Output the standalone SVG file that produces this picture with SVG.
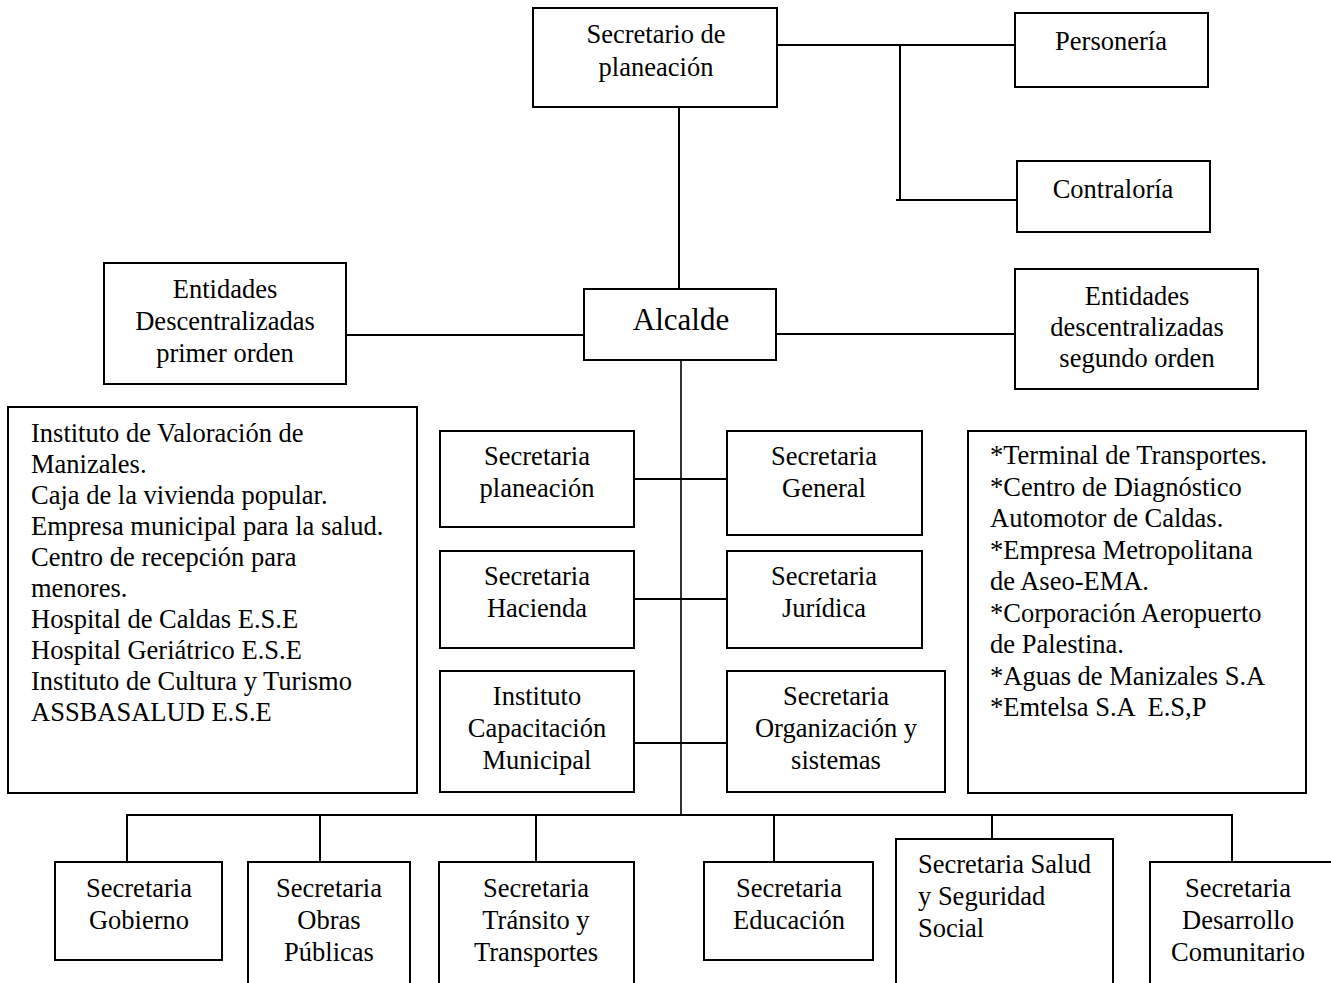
<svg xmlns="http://www.w3.org/2000/svg" width="1331" height="983" viewBox="0 0 1331 983">
<style>
rect{fill:#fff;stroke:#000;stroke-width:2}
line{stroke:#000;stroke-width:2}
text{font-family:"Liberation Serif","Times New Roman",serif;font-size:26.5px;fill:#000}
.c{text-anchor:middle}
</style>
<rect x="0" y="0" width="1331" height="983" style="stroke:none"/>
<g id="connectors">
<line x1="679" y1="107" x2="679" y2="290"/>
<line x1="777" y1="45" x2="1017" y2="45"/>
<line x1="900" y1="45" x2="900" y2="200"/>
<line x1="896" y1="200" x2="1018" y2="200"/>
<line x1="346" y1="335" x2="584" y2="335"/>
<line x1="776" y1="334" x2="1015" y2="334"/>
<line x1="681" y1="357" x2="681" y2="816" style="stroke-width:1.6"/>
<line x1="634" y1="479" x2="727" y2="479"/>
<line x1="634" y1="599" x2="727" y2="599"/>
<line x1="634" y1="743" x2="727" y2="743"/>
<line x1="126" y1="815" x2="1233" y2="815"/>
<line x1="127" y1="815" x2="127" y2="862"/>
<line x1="320" y1="815" x2="320" y2="862"/>
<line x1="536" y1="815" x2="536" y2="862"/>
<line x1="774" y1="815" x2="774" y2="862"/>
<line x1="992" y1="815" x2="992" y2="839"/>
<line x1="1232" y1="815" x2="1232" y2="862"/>
</g>
<g id="secretario-planeacion">
<rect x="533" y="8" width="244" height="99"/>
<text class="c" x="656" y="43">Secretario de</text>
<text class="c" x="656" y="76">planeación</text>
</g>
<g id="personeria">
<rect x="1015" y="13" width="193" height="74"/>
<text class="c" x="1111" y="50">Personería</text>
</g>
<g id="contraloria">
<rect x="1017" y="161" width="193" height="71"/>
<text class="c" x="1113" y="198">Contraloría</text>
</g>
<g id="alcalde">
<rect x="584" y="289" width="192" height="71"/>
<text class="c" x="681" y="330" style="font-size:31px">Alcalde</text>
</g>
<g id="entidades-primer-orden">
<rect x="104" y="263" width="242" height="121"/>
<text class="c" x="225" y="298">Entidades</text>
<text class="c" x="225" y="330">Descentralizadas</text>
<text class="c" x="225" y="362">primer orden</text>
</g>
<g id="entidades-segundo-orden">
<rect x="1015" y="269" width="243" height="120"/>
<text class="c" x="1137" y="305">Entidades</text>
<text class="c" x="1137" y="336">descentralizadas</text>
<text class="c" x="1137" y="367">segundo orden</text>
</g>
<g id="lista-primer-orden">
<rect x="8" y="407" width="409" height="386"/>
<text x="31" y="442">Instituto de Valoración de</text>
<text x="31" y="473">Manizales.</text>
<text x="31" y="504">Caja de la vivienda popular.</text>
<text x="31" y="535">Empresa municipal para la salud.</text>
<text x="31" y="566">Centro de recepción para</text>
<text x="31" y="597">menores.</text>
<text x="31" y="628">Hospital de Caldas E.S.E</text>
<text x="31" y="659">Hospital Geriátrico E.S.E</text>
<text x="31" y="690">Instituto de Cultura y Turismo</text>
<text x="31" y="721">ASSBASALUD E.S.E</text>
</g>
<g id="lista-segundo-orden">
<rect x="968" y="431" width="338" height="362"/>
<text x="990" y="464">*Terminal de Transportes.</text>
<text x="990" y="495.5">*Centro de Diagnóstico</text>
<text x="990" y="527">Automotor de Caldas.</text>
<text x="990" y="558.5">*Empresa Metropolitana</text>
<text x="990" y="590">de Aseo-EMA.</text>
<text x="990" y="621.5">*Corporación Aeropuerto</text>
<text x="990" y="653">de Palestina.</text>
<text x="990" y="684.5">*Aguas de Manizales S.A</text>
<text x="990" y="716" xml:space="preserve">*Emtelsa S.A  E.S,P</text>
</g>
<g id="secretaria-planeacion">
<rect x="440" y="431" width="194" height="96"/>
<text class="c" x="537" y="465">Secretaria</text>
<text class="c" x="537" y="497">planeación</text>
</g>
<g id="secretaria-general">
<rect x="727" y="431" width="195" height="104"/>
<text class="c" x="824" y="465">Secretaria</text>
<text class="c" x="824" y="497">General</text>
</g>
<g id="secretaria-hacienda">
<rect x="440" y="551" width="194" height="97"/>
<text class="c" x="537" y="585">Secretaria</text>
<text class="c" x="537" y="617">Hacienda</text>
</g>
<g id="secretaria-juridica">
<rect x="727" y="551" width="195" height="97"/>
<text class="c" x="824" y="585">Secretaria</text>
<text class="c" x="824" y="617">Jurídica</text>
</g>
<g id="instituto-capacitacion">
<rect x="440" y="671" width="194" height="121"/>
<text class="c" x="537" y="705">Instituto</text>
<text class="c" x="537" y="737">Capacitación</text>
<text class="c" x="537" y="769">Municipal</text>
</g>
<g id="secretaria-organizacion">
<rect x="727" y="671" width="218" height="121"/>
<text class="c" x="836" y="705">Secretaria</text>
<text class="c" x="836" y="737">Organización y</text>
<text class="c" x="836" y="769">sistemas</text>
</g>
<g id="secretaria-gobierno">
<rect x="55" y="862" width="167" height="98"/>
<text class="c" x="139" y="897">Secretaria</text>
<text class="c" x="139" y="929">Gobierno</text>
</g>
<g id="secretaria-obras">
<rect x="248" y="862" width="162" height="140"/>
<text class="c" x="329" y="897">Secretaria</text>
<text class="c" x="329" y="929">Obras</text>
<text class="c" x="329" y="961">Públicas</text>
</g>
<g id="secretaria-transito">
<rect x="439" y="862" width="195" height="140"/>
<text class="c" x="536" y="897">Secretaria</text>
<text class="c" x="536" y="929">Tránsito y</text>
<text class="c" x="536" y="961">Transportes</text>
</g>
<g id="secretaria-educacion">
<rect x="704" y="862" width="169" height="98"/>
<text class="c" x="789" y="897">Secretaria</text>
<text class="c" x="789" y="929">Educación</text>
</g>
<g id="secretaria-salud">
<rect x="896" y="839" width="217" height="163"/>
<text x="918" y="873">Secretaria Salud</text>
<text x="918" y="905">y Seguridad</text>
<text x="918" y="937">Social</text>
</g>
<g id="secretaria-desarrollo">
<rect x="1150" y="862" width="200" height="140"/>
<text class="c" x="1238" y="897">Secretaria</text>
<text class="c" x="1238" y="929">Desarrollo</text>
<text class="c" x="1238" y="961">Comunitario</text>
</g>
</svg>
